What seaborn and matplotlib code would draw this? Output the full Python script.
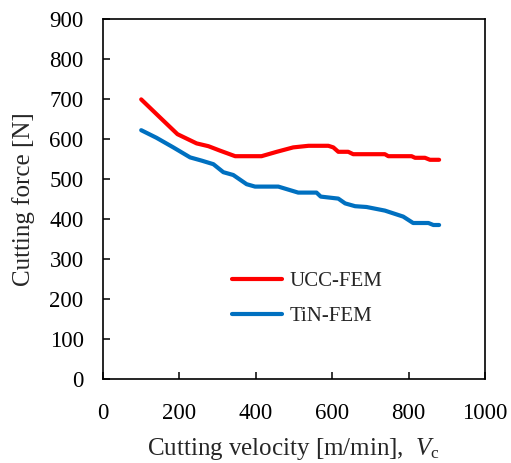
import matplotlib
matplotlib.use("Agg")
import matplotlib.pyplot as plt
import seaborn as sns
import pandas as pd

ucc_v = [100, 149, 195, 245, 276, 306, 346, 415, 455, 498, 538, 590, 603, 616, 642, 655, 738, 747, 808, 817, 843, 856, 880]
ucc_f = [699, 654, 612, 589, 582, 571, 557, 557, 568, 579, 583, 583, 579, 568, 568, 562, 562, 557, 557, 553, 553, 548, 548]
tin_v = [100, 140, 184, 228, 258, 289, 315, 341, 376, 398, 459, 511, 559, 570, 616, 634, 660, 690, 738, 786, 812, 852, 865, 880]
tin_f = [622, 603, 579, 554, 546, 537, 517, 510, 487, 481, 481, 466, 466, 456, 451, 439, 432, 430, 421, 406, 390, 390, 385, 385]
series_names = ["UCC-FEM", "TiN-FEM"]
colors = ["#FF0000", "#0070C0"]

df = pd.concat([
    pd.DataFrame({"v": ucc_v, "f": ucc_f, "s": series_names[0]}),
    pd.DataFrame({"v": tin_v, "f": tin_f, "s": series_names[1]}),
], ignore_index=True)

sns.set_style("white")
plt.rcParams["font.family"] = ["Liberation Serif", "DejaVu Serif"]
plt.rcParams["mathtext.fontset"] = "custom"
plt.rcParams["mathtext.it"] = "Liberation Serif:italic"
plt.rcParams["mathtext.rm"] = "Liberation Serif"

fig = plt.figure(figsize=(5.11, 4.63), dpi=100)
ax = fig.add_axes([0.2016, 0.1814, 0.7474, 0.7776])
sns.lineplot(data=df, x="v", y="f", hue="s", palette=colors, linewidth=3,
             ax=ax, sort=False, estimator=None)

ax.set_xlim(0, 1000)
ax.set_ylim(0, 900)
ax.set_xticks(range(0, 1001, 200))
ax.set_yticks(range(0, 901, 100))
ax.tick_params(direction="in", length=5, width=1.1, labelsize=16.5, colors="black",
               top=False, right=False, bottom=True, left=True)
ax.tick_params(axis="y", pad=14)
ax.tick_params(axis="x", pad=17)
for sp in ax.spines.values():
    sp.set_visible(True)
    sp.set_color("black")
    sp.set_linewidth(1.2)

ax.set_xlabel(r"Cutting velocity [m/min],  $V_{\mathrm{c}}$", fontsize=18, labelpad=9)
ax.set_ylabel("Cutting force [N]", fontsize=18, labelpad=10)

leg = ax.legend(loc="center left", bbox_to_anchor=(0.338, 0.222), frameon=False,
                fontsize=15, handlelength=2.4, labelspacing=0.75, handletextpad=0.35,
                borderpad=0, borderaxespad=0)
for line in leg.get_lines():
    line.set_linewidth(3)

fig.savefig("out.png", dpi=100)
